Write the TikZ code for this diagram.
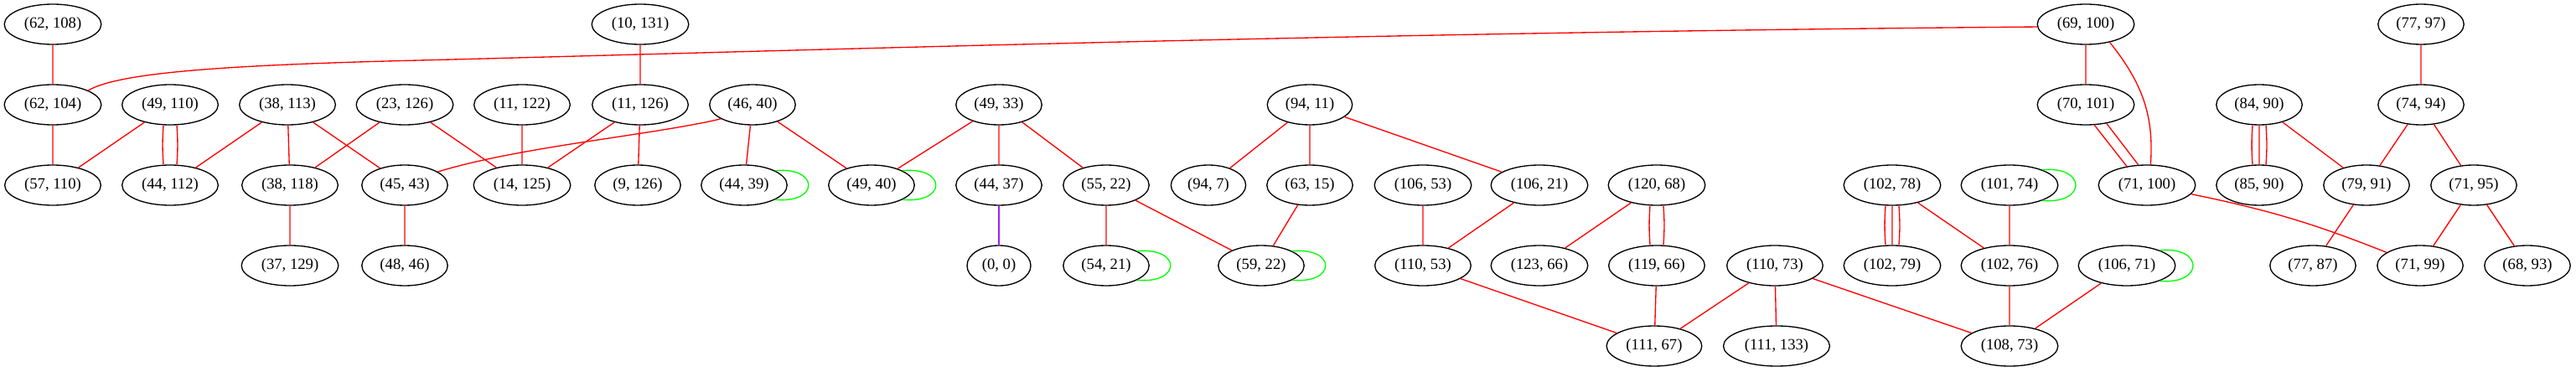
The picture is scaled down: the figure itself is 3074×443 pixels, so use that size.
\documentclass[tikz,border=0pt]{standalone}
\usepackage{fontspec}
\setmainfont{Liberation Serif}
\usetikzlibrary{shapes.geometric}
\definecolor{grpurple}{HTML}{A020F0}
\begin{document}
\begin{tikzpicture}[x=0.75pt,y=0.75pt]
	\tikzset{vtx/.style={ellipse, draw=black, line width=1pt, inner xsep=5pt, inner ysep=2pt,
			minimum height=36pt, font=\fontsize{14}{16}\selectfont},
		redline/.style={draw=red, line width=1pt},
		greenline/.style={draw=green, line width=1pt},
		purpleline/.style={draw=grpurple, line width=1pt}}
	\useasboundingbox (0,0) rectangle (3074,443);
	% top row
	\node[vtx] (n62x108) at (63,414) {(62, 108)};
	\node[vtx] (n10x131) at (764,414) {(10, 131)};
	\node[vtx] (n69x100) at (2489,414) {(69, 100)};
	\node[vtx] (n77x97) at (2889,414) {(77, 97)};
	% second row
	\node[vtx] (n62x104) at (63,318) {(62, 104)};
	\node[vtx] (n49x110) at (203,318) {(49, 110)};
	\node[vtx] (n38x113) at (343,318) {(38, 113)};
	\node[vtx] (n23x126) at (483,318) {(23, 126)};
	\node[vtx] (n11x122) at (623,318) {(11, 122)};
	\node[vtx] (n11x126) at (764,318) {(11, 126)};
	\node[vtx] (n46x40) at (898,318) {(46, 40)};
	\node[vtx] (n49x33) at (1192,318) {(49, 33)};
	\node[vtx] (n94x11) at (1563,318) {(94, 11)};
	\node[vtx] (n70x101) at (2489,318) {(70, 101)};
	\node[vtx] (n84x90) at (2696,318) {(84, 90)};
	\node[vtx] (n74x94) at (2889,318) {(74, 94)};
	% third row
	\node[vtx] (n57x110) at (63,222) {(57, 110)};
	\node[vtx] (n44x112) at (203,222) {(44, 112)};
	\node[vtx] (n38x118) at (346,222) {(38, 118)};
	\node[vtx] (n45x43) at (483,222) {(45, 43)};
	\node[vtx] (n14x125) at (623,222) {(14, 125)};
	\node[vtx] (n9x126) at (761,222) {(9, 126)};
	\node[vtx] (n44x39) at (888,222) {(44, 39)};
	\node[vtx] (n49x40) at (1040,222) {(49, 40)};
	\node[vtx] (n44x37) at (1192,222) {(44, 37)};
	\node[vtx] (n55x22) at (1320,222) {(55, 22)};
	\node[vtx] (n94x7) at (1442,222) {(94, 7)};
	\node[vtx] (n63x15) at (1563,222) {(63, 15)};
	\node[vtx] (n106x53) at (1698,222) {(106, 53)};
	\node[vtx] (n106x21) at (1837,222) {(106, 21)};
	\node[vtx] (n120x68) at (1977,222) {(120, 68)};
	\node[vtx] (n102x78) at (2258,222) {(102, 78)};
	\node[vtx] (n101x74) at (2398,222) {(101, 74)};
	\node[vtx] (n71x100) at (2562,222) {(71, 100)};
	\node[vtx] (n85x90) at (2696,222) {(85, 90)};
	\node[vtx] (n79x91) at (2824,222) {(79, 91)};
	\node[vtx] (n71x95) at (2952,222) {(71, 95)};
	% fourth row
	\node[vtx] (n37x129) at (346,126) {(37, 129)};
	\node[vtx] (n48x46) at (483,126) {(48, 46)};
	\node[vtx] (n0x0) at (1192,126) {(0, 0)};
	\node[vtx] (n54x21) at (1320,126) {(54, 21)};
	\node[vtx] (n59x22) at (1505,126) {(59, 22)};
	\node[vtx] (n110x53) at (1698,126) {(110, 53)};
	\node[vtx] (n123x66) at (1837,126) {(123, 66)};
	\node[vtx] (n119x66) at (1977,126) {(119, 66)};
	\node[vtx] (n110x73) at (2118,126) {(110, 73)};
	\node[vtx] (n102x79) at (2258,126) {(102, 79)};
	\node[vtx] (n102x76) at (2398,126) {(102, 76)};
	\node[vtx] (n106x71) at (2538,126) {(106, 71)};
	\node[vtx] (n77x87) at (2760,126) {(77, 87)};
	\node[vtx] (n71x99) at (2888,126) {(71, 99)};
	\node[vtx] (n68x93) at (3016,126) {(68, 93)};
	% bottom row
	\node[vtx] (n111x67) at (1974,30) {(111, 67)};
	\node[vtx] (n111x133) at (2120,30) {(111, 133)};
	\node[vtx] (n108x73) at (2398,30) {(108, 73)};
	% edges
	\draw[redline] (n62x108) -- (n62x104)
	(n62x104) -- (n57x110)
	(n49x110) -- (n57x110)
	(n38x113) -- (n44x112)
	(n38x113) -- (n38x118)
	(n38x113) -- (n45x43)
	(n23x126) -- (n38x118)
	(n23x126) -- (n14x125)
	(n11x122) -- (n14x125)
	(n11x126) -- (n14x125)
	(n11x126) -- (n9x126)
	(n10x131) -- (n11x126)
	(n38x118) -- (n37x129)
	(n45x43) -- (n48x46)
	(n46x40) -- (n44x39)
	(n46x40) -- (n49x40)
	(n49x33) -- (n49x40)
	(n49x33) -- (n44x37)
	(n49x33) -- (n55x22)
	(n55x22) -- (n54x21)
	(n55x22) -- (n59x22)
	(n94x11) -- (n94x7)
	(n94x11) -- (n63x15)
	(n94x11) -- (n106x21)
	(n63x15) -- (n59x22)
	(n106x53) -- (n110x53)
	(n106x21) -- (n110x53)
	(n120x68) -- (n123x66)
	(n110x53) -- (n111x67)
	(n119x66) -- (n111x67)
	(n110x73) -- (n111x67)
	(n110x73) -- (n111x133)
	(n110x73) -- (n108x73)
	(n102x78) -- (n102x79)
	(n102x78) -- (n102x76)
	(n101x74) -- (n102x76)
	(n102x76) -- (n108x73)
	(n106x71) -- (n108x73)
	(n69x100) -- (n70x101)
	(n84x90) -- (n85x90)
	(n84x90) -- (n79x91)
	(n74x94) -- (n79x91)
	(n74x94) -- (n71x95)
	(n77x97) -- (n74x94)
	(n79x91) -- (n77x87)
	(n71x95) -- (n71x99)
	(n71x95) -- (n68x93)
	;
	% repeated edges
	\draw[redline] ([xshift=-6pt]n49x110.south) to[bend right=4] ([xshift=-6pt]n44x112.north)
	([xshift=6pt]n49x110.south) to[bend left=4] ([xshift=6pt]n44x112.north)
	([xshift=-6pt]n120x68.south) to[bend right=4] ([xshift=-6pt]n119x66.north)
	([xshift=6pt]n120x68.south) to[bend left=4] ([xshift=6pt]n119x66.north)
	([xshift=-6pt]n102x78.south) to[bend right=4] ([xshift=-6pt]n102x79.north)
	([xshift=6pt]n102x78.south) to[bend left=4] ([xshift=6pt]n102x79.north)
	([xshift=-6pt]n84x90.south) to[bend right=4] ([xshift=-6pt]n85x90.north)
	([xshift=6pt]n84x90.south) to[bend left=4] ([xshift=6pt]n85x90.north)
	(n70x101.-67) -- (n71x100.137)
	(n70x101.-42) -- (n71x100.113)
	;
	% curved edges
	\draw[redline] (n69x100.183) .. controls (1600,404) and (900,381) .. (500,371)
	.. controls (250,365) and (140,355) .. (n62x104.22);
	\draw[redline] (n69x100.-37) .. controls (2560,340) and (2570,300) .. (n71x100.80);
	\draw[redline] (n46x40.204) .. controls (780,282) and (620,268) .. (n45x43.22);
	\draw[redline] (n71x100) to[bend left=5] (n71x99);
	\draw[purpleline] (n44x37) -- (n0x0);
	% self loops
	\draw[greenline] (n44x39.25) .. controls +(53,5) and +(53,-5) .. (n44x39.-25)
	(n49x40.25) .. controls +(53,5) and +(53,-5) .. (n49x40.-25)
	(n54x21.25) .. controls +(53,5) and +(53,-5) .. (n54x21.-25)
	(n59x22.25) .. controls +(53,5) and +(53,-5) .. (n59x22.-25)
	(n101x74.25) .. controls +(53,5) and +(53,-5) .. (n101x74.-25)
	(n106x71.25) .. controls +(53,5) and +(53,-5) .. (n106x71.-25)
	;
\end{tikzpicture}
\end{document}
